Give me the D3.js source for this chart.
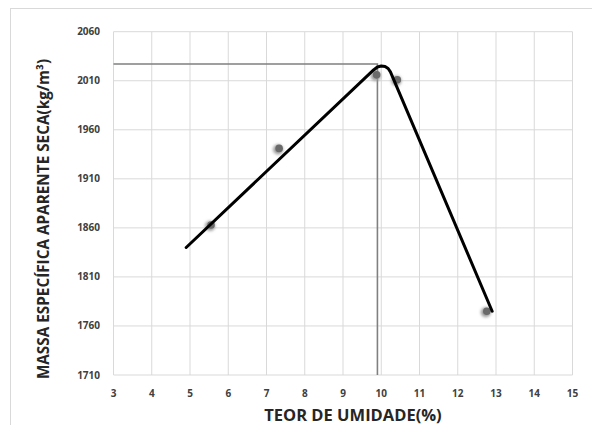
<!DOCTYPE html>
<html>
<head>
<meta charset="utf-8">
<script src="https://cdn.jsdelivr.net/npm/d3@7"></script>
<style>
  body { margin: 0; background: #fff; }
  text { font-family: "Open Sans", sans-serif; font-weight: bold; }
</style>
</head>
<body>
<script>
// measured points (teor de umidade %, massa específica kg/m³)
const moisture = [5.55, 7.33, 9.88, 10.42, 12.76];
const density = [1863, 1941, 2016, 2011, 1775];

// hand-drawn compaction curve
const curveX = [4.9, 9.8, 9.9, 10.0, 10.1, 10.18, 10.24, 12.9];
const curveY = [1840, 2021, 2024, 2025, 2024.5, 2022.5, 2019, 1775];

// optimum lines
const optMoisture = 9.9;
const optDensity = 2027;

const xTicks = d3.range(3, 16, 1);
const yTicks = [1710, 1760, 1810, 1860, 1910, 1960, 2010, 2060];

const width = 592, height = 425;
const margin = { left: 113.5, right: 19.5, top: 31.7, bottom: 50 };

const svg = d3.select("body").append("svg")
	.attr("width", width)
	.attr("height", height);

// outer chart border
svg.append("rect")
	.attr("x", 10.5).attr("y", 8.5)
	.attr("width", 600).attr("height", 440)
	.attr("fill", "none")
	.attr("stroke", "#d9d9d9");

const x = d3.scaleLinear().domain([3, 15]).range([margin.left, width - margin.right]);
const y = d3.scaleLinear().domain([1710, 2060]).range([height - margin.bottom, margin.top]);

// grid
svg.append("g").selectAll("line")
	.data(xTicks)
	.enter().append("line")
	.attr("x1", d => x(d)).attr("x2", d => x(d))
	.attr("y1", y(1710)).attr("y2", y(2060))
	.attr("stroke", "#d9d9d9").attr("stroke-width", 1);

svg.append("g").selectAll("line")
	.data(yTicks)
	.enter().append("line")
	.attr("x1", x(3)).attr("x2", x(15))
	.attr("y1", d => y(d)).attr("y2", d => y(d))
	.attr("stroke", "#d9d9d9").attr("stroke-width", 1);

// tick labels
svg.append("g").selectAll("text")
	.data(yTicks)
	.enter().append("text")
	.attr("x", 100)
	.attr("y", d => y(d) + 3.5)
	.attr("text-anchor", "end")
	.attr("font-size", "10px")
	.attr("fill", "#404040")
	.text(d => d);

svg.append("g").selectAll("text")
	.data(xTicks)
	.enter().append("text")
	.attr("x", d => x(d))
	.attr("y", 397)
	.attr("text-anchor", "middle")
	.attr("font-size", "10px")
	.attr("fill", "#404040")
	.text(d => d);

// optimum guide lines
svg.append("path")
	.attr("d", `M${x(3)},${y(optDensity)}H${x(optMoisture)}V${y(1710)}`)
	.attr("fill", "none")
	.attr("stroke", "#808080")
	.attr("stroke-width", 1.6);

// soft shadow for the points
const defs = svg.append("defs");
defs.append("filter").attr("id", "blur")
	.attr("x", "-100%").attr("y", "-100%").attr("width", "300%").attr("height", "300%")
	.append("feGaussianBlur").attr("stdDeviation", 1.5);

const pts = moisture.map((d, i) => [d, density[i]]);

svg.append("g").selectAll("circle")
	.data(pts)
	.enter().append("circle")
	.attr("cx", d => x(d[0]) - 1)
	.attr("cy", d => y(d[1]) + 1)
	.attr("r", 5)
	.attr("fill", "#9a9a9a")
	.attr("filter", "url(#blur)");

svg.append("g").selectAll("circle")
	.data(pts)
	.enter().append("circle")
	.attr("cx", d => x(d[0]))
	.attr("cy", d => y(d[1]))
	.attr("r", 3.8)
	.attr("fill", "#6a6a6a");

// compaction curve
const line = d3.line()
	.x(d => x(d[0]))
	.y(d => y(d[1]));

svg.append("path")
	.datum(curveX.map((d, i) => [d, curveY[i]]))
	.attr("d", line)
	.attr("fill", "none")
	.attr("stroke", "#000")
	.attr("stroke-width", 3)
	.attr("stroke-linecap", "round")
	.attr("stroke-linejoin", "round");

// axis titles
svg.append("text")
	.attr("x", 353)
	.attr("y", 421)
	.attr("text-anchor", "middle")
	.attr("font-size", "16.5px")
	.attr("fill", "#262626")
	.text("TEOR DE UMIDADE(%)");

svg.append("text")
	.attr("transform", "translate(49,219) rotate(-90)")
	.attr("text-anchor", "middle")
	.attr("font-size", "15.3px")
	.attr("fill", "#262626")
	.text("MASSA ESPECÍFICA APARENTE SECA(kg/m³)");
</script>
</body>
</html>
